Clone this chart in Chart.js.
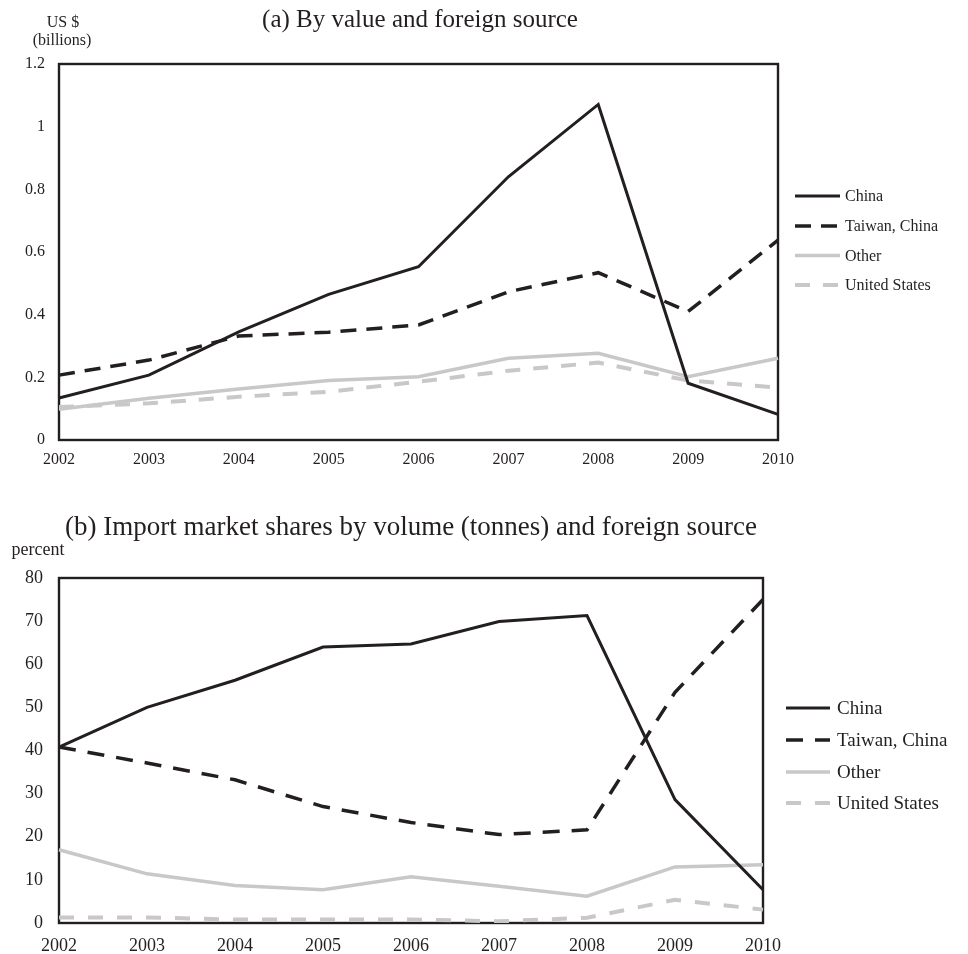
<!DOCTYPE html>
<html>
<head>
<meta charset="utf-8">
<script src="https://cdn.jsdelivr.net/npm/chart.js@4.4.1/dist/chart.umd.min.js"></script>
<style>
  html, body { margin: 0; padding: 0; background: #ffffff; }
  body { width: 968px; height: 954px; position: relative; overflow: hidden; }
  canvas { position: absolute; left: 0; }
  #cA { top: 0; }
  #cB { top: 480px; }
</style>
</head>
<body>
<canvas id="cA" width="968" height="480"></canvas>
<canvas id="cB" width="968" height="474"></canvas>
<script>
// ---------- data ----------
const years = ['2002', '2003', '2004', '2005', '2006', '2007', '2008', '2009', '2010'];
const seriesNames = ['China', 'Taiwan, China', 'Other', 'United States'];

// (a) US$ billions
const valueChina  = [0.134, 0.207, 0.345, 0.465, 0.553, 0.840, 1.071, 0.181, 0.082];
const valueTaiwan = [0.207, 0.255, 0.332, 0.344, 0.367, 0.473, 0.534, 0.410, 0.638];
const valueOther  = [0.098, 0.133, 0.163, 0.190, 0.202, 0.261, 0.277, 0.202, 0.261];
const valueUS     = [0.105, 0.117, 0.138, 0.154, 0.186, 0.221, 0.247, 0.190, 0.167];

// (b) percent
const shareChina  = [40.8, 50.0, 56.3, 64.0, 64.7, 69.9, 71.3, 28.6, 7.7];
const shareTaiwan = [40.8, 37.1, 33.2, 27.0, 23.3, 20.5, 21.6, 53.5, 75.0];
const shareOther  = [17.0, 11.4, 8.7, 7.7, 10.7, 8.5, 6.2, 13.0, 13.5];
const shareUS     = [1.3, 1.3, 0.8, 0.8, 0.8, 0.4, 1.2, 5.4, 3.1];

const yTicksA = { min: 0, max: 1.2, step: 0.2 };
const yTicksB = { min: 0, max: 80, step: 10 };

// ---------- styles ----------
const FONT = "'Liberation Serif', 'Times New Roman', Times, serif";
const INK = '#231f20';
const GREY = '#c8c8c8';

function makeDatasets(arrs, dashA, dashB) {
  const styles = [
    { color: INK,  width: 3,   dash: [] },
    { color: INK,  width: 3.5, dash: dashA },
    { color: GREY, width: 3.5, dash: [] },
    { color: GREY, width: 4,   dash: dashB }
  ];
  return arrs.map((d, i) => ({
    label: seriesNames[i],
    data: d,
    borderColor: styles[i].color,
    backgroundColor: styles[i].color,
    borderWidth: styles[i].width,
    borderDash: styles[i].dash,
    borderCapStyle: 'butt',
    borderJoinStyle: 'miter',
    pointRadius: 0,
    pointHoverRadius: 0,
    tension: 0,
    fill: false
  }));
}

function framePlugin(cfg) {
  return {
    id: 'frame_' + cfg.name,
    beforeDatasetsDraw(chart) {
      const a = chart.chartArea;
      const ctx = chart.ctx;
      ctx.save();
      ctx.strokeStyle = INK;
      ctx.lineWidth = 2.4;
      ctx.setLineDash([]);
      ctx.strokeRect(a.left, a.top, a.right - a.left, a.bottom - a.top);
      ctx.restore();
    },
    afterDraw(chart) {
      const ctx = chart.ctx;
      ctx.save();
      ctx.fillStyle = INK;
      // title
      ctx.font = cfg.titleSize + 'px ' + FONT;
      ctx.textAlign = 'center';
      ctx.textBaseline = 'alphabetic';
      ctx.fillText(cfg.title, cfg.titleX, cfg.titleY);
      // unit labels
      ctx.font = cfg.unitSize + 'px ' + FONT;
      cfg.units.forEach(u => ctx.fillText(u.text, u.x, u.y));
      // legend
      ctx.font = cfg.legendSize + 'px ' + FONT;
      ctx.textAlign = 'left';
      ctx.textBaseline = 'middle';
      chart.data.datasets.forEach((ds, i) => {
        const y = cfg.legendY[i];
        ctx.save();
        ctx.strokeStyle = ds.borderColor;
        ctx.lineWidth = ds.borderWidth;
        ctx.setLineDash(ds.borderDash || []);
        ctx.lineCap = 'butt';
        ctx.beginPath();
        ctx.moveTo(cfg.legendX0, y);
        ctx.lineTo(cfg.legendX1, y);
        ctx.stroke();
        ctx.restore();
        ctx.fillStyle = INK;
        ctx.fillText(ds.label, cfg.legendTextX, y + 1);
      });
      ctx.restore();
    }
  };
}

function makeChart(canvasId, datasets, yt, geom, plugin) {
  return new Chart(document.getElementById(canvasId), {
    type: 'line',
    data: { labels: years, datasets: datasets },
    options: {
      responsive: false,
      animation: false,
      devicePixelRatio: 1,
      layout: { padding: { left: 0, right: geom.padRight, top: geom.padTop, bottom: 0 } },
      plugins: { legend: { display: false }, tooltip: { enabled: false }, title: { display: false } },
      scales: {
        x: {
          type: 'category',
          offset: false,
          grid: { display: false, drawTicks: false },
          border: { display: false },
          ticks: {
            color: INK, font: { family: FONT, size: geom.xFont },
            padding: geom.xPad, maxRotation: 0, autoSkip: false
          },
          afterFit(scale) { scale.height = geom.xHeight; }
        },
        y: {
          min: yt.min, max: yt.max,
          grid: { display: false, drawTicks: false },
          border: { display: false },
          ticks: {
            stepSize: yt.step, color: INK,
            font: { family: FONT, size: geom.yFont }, padding: geom.yPad,
            callback: (v) => String(Number(Number(v).toFixed(2)))
          },
          afterFit(scale) { scale.width = 59; }
        }
      }
    },
    plugins: [plugin]
  });
}

// ---------- chart (a) ----------
makeChart('cA',
  makeDatasets([valueChina, valueTaiwan, valueOther, valueUS], [16, 10], [15, 13]),
  yTicksA,
  { padRight: 190, padTop: 64, xHeight: 40, xFont: 16, xPad: 10, yFont: 16, yPad: 14 },
  framePlugin({
    name: 'a',
    title: '(a) By value and foreign source', titleSize: 25, titleX: 420, titleY: 27,
    unitSize: 16,
    units: [{ text: 'US $', x: 63, y: 27 }, { text: '(billions)', x: 62, y: 45 }],
    legendSize: 16, legendX0: 795, legendX1: 840, legendTextX: 845,
    legendY: [196, 226, 255.5, 285]
  })
);

// ---------- chart (b) ----------
makeChart('cB',
  makeDatasets([shareChina, shareTaiwan, shareOther, shareUS], [17, 12], [15, 14]),
  yTicksB,
  { padRight: 205, padTop: 98, xHeight: 31, xFont: 18, xPad: 12, yFont: 18, yPad: 16 },
  framePlugin({
    name: 'b',
    title: '(b) Import market shares by volume (tonnes) and foreign source', titleSize: 27, titleX: 411, titleY: 55,
    unitSize: 18,
    units: [{ text: 'percent', x: 38, y: 75 }],
    legendSize: 19, legendX0: 786, legendX1: 830, legendTextX: 837,
    legendY: [228, 260, 292, 323]
  })
);
</script>
</body>
</html>
